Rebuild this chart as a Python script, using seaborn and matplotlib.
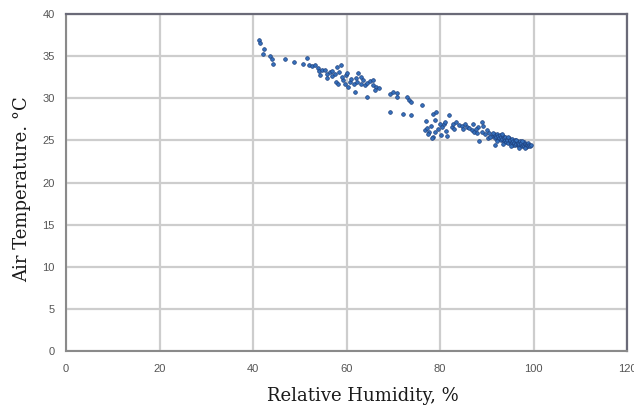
import matplotlib
matplotlib.use("Agg")
import matplotlib.pyplot as plt
import seaborn as sns
import pandas as pd

humidity = [
    41.3, 41.5, 42.4, 42.1, 43.6, 44.1, 44.3, 46.8, 48.8, 50.8, 51.6, 52.0, 52.6, 53.3,
    54.0, 54.2, 54.7, 54.3, 55.4, 55.8, 55.9, 56.5, 57.0, 58.0, 58.8, 57.8, 58.2, 59.9,
    59.3, 59.7, 60.4, 60.75, 61.6, 61.8, 62.5, 62.0, 63.2, 63.6, 64.0, 64.4, 64.3, 65.0,
    65.6, 65.7, 66.3, 67.0, 69.3, 69.9, 70.7, 70.9, 69.3, 72.0, 72.9, 73.4, 73.7, 73.9,
    76.1, 77.0, 78.6, 79.1, 78.9, 76.8, 77.3, 77.7, 78.0, 77.5, 78.4, 78.2, 80.0, 80.4,
    80.9, 81.3, 81.5, 81.1, 82.0, 82.5, 82.8, 83.4, 84.1, 84.6, 85.3, 85.7, 86.3, 86.8,
    87.0, 87.3, 88.2, 88.9, 89.3, 88.4, 89.6, 90.3, 91.1, 91.8, 91.7,
    79.6, 80.2, 79.0, 83.0, 85.0, 87.8, 88.0, 89.0, 90.0, 90.5,
    56.8, 57.5, 58.5, 59.0, 61.0, 62.3, 63.0, 66.0, 60.0,
    91.5, 91.8, 92.0, 92.2, 92.4, 92.5, 92.7, 92.9, 93.0, 93.1, 93.3, 93.4, 93.6, 93.7,
    93.9, 94.0, 94.1, 94.3, 94.4, 94.6, 94.7, 94.9, 95.0, 95.1, 95.3, 95.4, 95.6, 95.7,
    95.9, 96.0, 96.1, 96.3, 96.4, 96.6, 96.7, 96.9, 97.0, 97.1, 97.3, 97.4, 97.6, 97.7,
    97.9, 98.0, 98.2, 98.3, 98.5, 98.6, 98.8, 98.9, 99.1, 99.3, 99.5, 92.1, 93.5, 95.2,
    96.8, 98.1, 97.5, 96.2, 94.5, 93.2, 91.3, 90.8,
]
temperature = [
    36.95, 36.6, 35.8, 35.2, 35.0, 34.6, 34.1, 34.7, 34.3, 34.1, 34.75, 34.0, 33.8, 33.9,
    33.6, 33.2, 33.35, 32.75, 33.3, 32.9, 32.4, 33.1, 32.6, 33.7, 33.95, 31.95, 31.75, 32.8,
    32.2, 31.7, 31.35, 31.95, 31.75, 30.75, 33.0, 32.35, 32.55, 32.15, 31.55, 31.85, 30.2, 32.05,
    32.2, 31.55, 31.3, 31.2, 30.55, 30.7, 30.65, 30.2, 28.35, 28.15, 30.2, 29.8, 29.5, 28.05,
    29.2, 27.3, 28.15, 28.35, 27.4, 26.2, 26.5, 26.05, 26.7, 25.8, 25.4, 25.3, 26.95, 26.6,
    26.95, 26.15, 25.55, 27.15, 28.0, 26.6, 27.0, 27.15, 26.85, 26.75, 26.95, 26.6, 26.45, 26.2,
    26.95, 26.05, 26.6, 27.15, 26.75, 24.9, 25.7, 25.3, 25.55, 25.25, 24.5,
    26.3, 25.6, 26.0, 26.3, 26.4, 26.3, 25.9, 26.0, 26.2, 25.9,
    33.2, 32.9, 33.1, 32.5, 32.3, 31.9, 31.7, 31.0, 33.0,
    25.8, 25.6, 25.4, 25.7, 25.2, 25.5, 25.3, 25.6, 25.0, 25.4, 25.2, 25.5, 24.9, 25.3,
    25.1, 25.4, 24.8, 25.2, 25.0, 24.7, 25.3, 24.9, 25.1, 24.6, 24.8, 25.2, 24.5, 24.9,
    24.7, 25.0, 24.4, 24.6, 24.9, 24.5, 24.7, 24.3, 24.6, 24.9, 24.4, 24.7, 24.3, 24.5,
    24.8, 24.3, 24.6, 24.4, 24.2, 24.5, 24.7, 24.3, 24.5, 24.3, 24.4, 24.9, 24.6, 24.3,
    24.1, 24.1, 24.9, 25.1, 25.4, 25.7, 25.9, 25.4,
]
x_ticks = [0, 20, 40, 60, 80, 100, 120]
y_ticks = [0, 5, 10, 15, 20, 25, 30, 35, 40]
x_label = "Relative Humidity, %"
y_label = "Air Temperature. °C"

df = pd.DataFrame({"rh": humidity, "t": temperature})

sns.set_theme(style="white")
plt.rcParams["font.family"] = ["Liberation Sans", "DejaVu Sans"]

fig = plt.figure(figsize=(6.34, 4.08), dpi=100)
ax = fig.add_axes([66 / 634, 1 - 351 / 408, (627 - 66) / 634, (351 - 14) / 408])

sns.scatterplot(data=df, x="rh", y="t", ax=ax, s=7, color="#3570bd",
                edgecolor="#1d3f7c", linewidth=0.5, zorder=3)

ax.set_xlim(0, 120)
ax.set_ylim(0, 40)
ax.set_xticks(x_ticks)
ax.set_yticks(y_ticks)
ax.grid(True, color="#cdcdcd", linewidth=1.6)
ax.set_axisbelow(True)
ax.tick_params(axis="both", length=0, labelsize=8, labelcolor="#555555")
ax.tick_params(axis="x", pad=9)
ax.tick_params(axis="y", pad=8)
for side in ["left", "bottom"]:
    ax.spines[side].set_color("#8a8a8a")
    ax.spines[side].set_linewidth(1.5)
for side in ["top", "right"]:
    ax.spines[side].set_color("#6a6a78")
    ax.spines[side].set_linewidth(1.6)

ax.set_xlabel(x_label, family=["DejaVu Serif"], fontsize=13, color="#1a1a1a")
ax.set_ylabel(y_label, family=["DejaVu Serif"], fontsize=13, color="#1a1a1a")
ax.xaxis.set_label_coords(0.53, -0.108)
ax.yaxis.set_label_coords(-0.062, 0.48)

fig.savefig("out.png", dpi=100)
